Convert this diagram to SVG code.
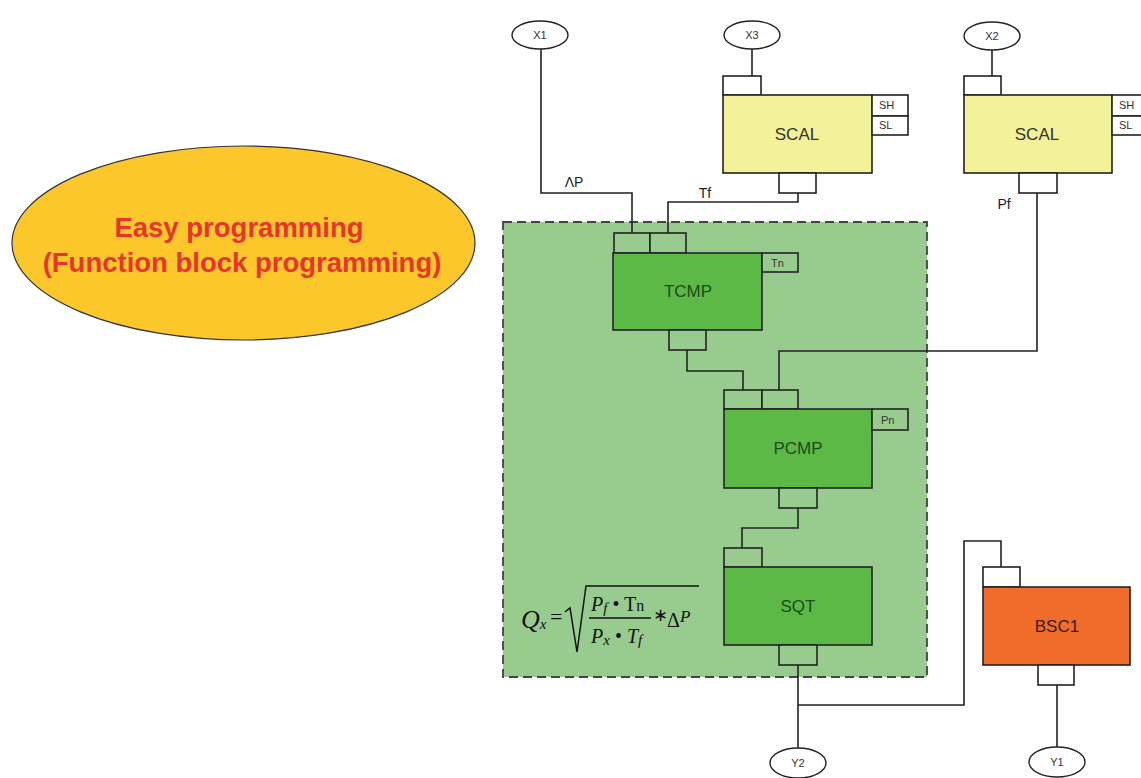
<svg xmlns="http://www.w3.org/2000/svg" width="1141" height="778" viewBox="0 0 1141 778">
<style>
.w{fill:none;stroke:#222;stroke-width:1.6}
.io{fill:#fff;stroke:#222;stroke-width:1.4}
.lbl{font-family:"Liberation Sans",Arial,sans-serif;font-size:11px;fill:#333;text-anchor:middle}
.port{fill:#fff;stroke:#222;stroke-width:1.6}
.gport{fill:#98cc8e;stroke:#222;stroke-width:1.6}
.blk{stroke:#222;stroke-width:1.6}
.bt{font-family:"Liberation Sans",Arial,sans-serif;font-size:17px;text-anchor:middle}
.sm{font-family:"Liberation Sans",Arial,sans-serif;font-size:11px;fill:#333}
.wl{font-family:"Liberation Sans",Arial,sans-serif;font-size:14px;fill:#222;text-anchor:middle}
.m{font-family:"Liberation Serif","Times New Roman",serif;font-size:20px;fill:#111}
</style>
<rect width="1141" height="778" fill="#fff"/>
<g id="title">
<ellipse cx="243.5" cy="243" rx="231.5" ry="97" fill="#fcc72a" stroke="#333" stroke-width="1.2"/>
<text x="239" y="237" font-family="Liberation Sans,Arial,sans-serif" font-size="27.5" font-weight="bold" fill="#e8352c" text-anchor="middle">Easy programming</text>
<text x="242" y="272" font-family="Liberation Sans,Arial,sans-serif" font-size="27.5" font-weight="bold" fill="#e8352c" text-anchor="middle">(Function block programming)</text>
</g>
<g id="region">
<rect x="503" y="222" width="424" height="455" fill="#98cc8e" stroke="#444" stroke-width="1.8" stroke-dasharray="9,5"/>
</g>
<g id="connectors">
<polyline class="w" points="541,48 541,193 632,193 632,233"/>
<polyline class="w" points="752,49 752,76"/>
<polyline class="w" points="798,193 798,202 668,202 668,233"/>
<polyline class="w" points="992,49 992,76"/>
<polyline class="w" points="1037,193 1037,351 779,351 779,390"/>
<polyline class="w" points="687,350 687,371 743,371 743,390"/>
<polyline class="w" points="798,508 798,528 742,528 742,548"/>
<polyline class="w" points="798,665 798,748"/>
<polyline class="w" points="798,705 964,705 964,541 1001,541 1001,567"/>
<polyline class="w" points="1057,685 1057,747"/>
<text class="wl" x="574" y="187">ΛP</text>
<text class="wl" x="705" y="198">Tf</text>
<text class="wl" x="1004" y="209">Pf</text>
</g>
<g id="X1"><ellipse class="io" cx="540" cy="35" rx="28" ry="14"/><text class="lbl" x="540" y="39">X1</text></g>
<g id="X3"><ellipse class="io" cx="752" cy="35" rx="28" ry="14"/><text class="lbl" x="752" y="39">X3</text></g>
<g id="X2"><ellipse class="io" cx="992" cy="36" rx="28" ry="14"/><text class="lbl" x="992" y="40">X2</text></g>
<g id="SCAL1">
<rect class="port" x="723" y="76" width="38" height="19"/>
<rect class="blk" x="723" y="95" width="149" height="78" fill="#f3f19a"/>
<rect class="port" x="872" y="95" width="36" height="21"/>
<rect class="port" x="872" y="116" width="36" height="19"/>
<rect class="port" x="779" y="173" width="37" height="20"/>
<text class="bt" x="797" y="140" fill="#333">SCAL</text>
<text class="sm" x="879" y="109">SH</text>
<text class="sm" x="879" y="129">SL</text>
</g>
<g id="SCAL2">
<rect class="port" x="964" y="76" width="37" height="19"/>
<rect class="blk" x="964" y="95" width="148" height="78" fill="#f3f19a"/>
<rect class="port" x="1112" y="95" width="36" height="21"/>
<rect class="port" x="1112" y="116" width="36" height="19"/>
<rect class="port" x="1019" y="173" width="38" height="20"/>
<text class="bt" x="1037" y="140" fill="#333">SCAL</text>
<text class="sm" x="1119" y="109">SH</text>
<text class="sm" x="1119" y="129">SL</text>
</g>
<g id="TCMP">
<rect class="gport" x="614" y="233" width="36" height="20"/>
<rect class="gport" x="650" y="233" width="36" height="20"/>
<rect class="blk" x="613" y="253" width="149" height="77" fill="#5cb946"/>
<rect class="gport" x="762" y="253" width="36" height="19"/>
<rect class="gport" x="669" y="330" width="37" height="20"/>
<text class="bt" x="688" y="297" fill="#1d4a1d">TCMP</text>
<text class="sm" x="771" y="267" style="font-size:11px" fill="#1d4a1d">Tn</text>
</g>
<g id="PCMP">
<rect class="gport" x="724" y="390" width="38" height="19"/>
<rect class="gport" x="762" y="390" width="36" height="19"/>
<rect class="blk" x="724" y="409" width="148" height="79" fill="#5cb946"/>
<rect class="gport" x="872" y="409" width="36" height="21"/>
<rect class="gport" x="779" y="488" width="38" height="20"/>
<text class="bt" x="798" y="454" fill="#1d4a1d">PCMP</text>
<text class="sm" x="881" y="424" style="font-size:11px" fill="#1d4a1d">Pn</text>
</g>
<g id="SQT">
<rect class="gport" x="724" y="548" width="38" height="19"/>
<rect class="blk" x="724" y="567" width="148" height="78" fill="#5cb946"/>
<rect class="gport" x="779" y="645" width="38" height="20"/>
<text class="bt" x="798" y="612" fill="#1d4a1d">SQT</text>
</g>
<g id="formula">
<text class="m" x="521" y="628" style="font-size:26px" font-style="italic">Q<tspan style="font-size:15px" dy="1">x</tspan></text>
<text class="m" x="550" y="624" style="font-size:22px">=</text>
<polyline points="565,612 570,608 577,652 586,586 699,586" fill="none" stroke="#111" stroke-width="1.5"/>
<text class="m" x="591" y="611" font-style="italic">P<tspan style="font-size:15px" dy="2">f</tspan><tspan dy="-2" font-style="normal"> • T</tspan><tspan font-style="normal" style="font-size:16px">n</tspan></text>
<line x1="589" y1="618" x2="651" y2="618" stroke="#111" stroke-width="1.3"/>
<text class="m" x="591" y="643" font-style="italic">P<tspan style="font-size:15px" dy="2">x</tspan><tspan dy="-2" font-style="normal"> • </tspan>T<tspan style="font-size:15px" dy="2">f</tspan></text>
<text class="m" x="653" y="621" style="font-size:18px">∗</text>
<text class="m" x="667" y="627" style="font-size:20px">Δ<tspan font-style="italic" style="font-size:17px" dy="-5">P</tspan></text>
</g>
<g id="BSC1">
<rect class="port" x="983" y="567" width="37" height="20"/>
<rect class="blk" x="983" y="587" width="147" height="78" fill="#f06c2a"/>
<rect class="port" x="1038" y="665" width="36" height="20"/>
<text class="bt" x="1057" y="632" fill="#3a1a0a">BSC1</text>
</g>
<g id="Y2"><ellipse class="io" cx="798" cy="763" rx="28" ry="15"/><text class="lbl" x="798" y="767">Y2</text></g>
<g id="Y1"><ellipse class="io" cx="1057" cy="762" rx="28" ry="15"/><text class="lbl" x="1057" y="766">Y1</text></g>
</svg>
